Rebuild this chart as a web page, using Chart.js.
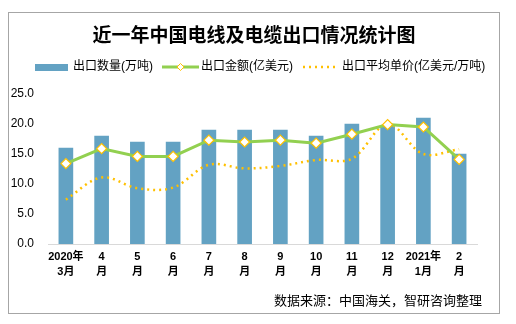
<!DOCTYPE html>
<html>
<head>
<meta charset="utf-8">
<script src="https://cdn.jsdelivr.net/npm/chart.js@4"></script>
<style>
  html, body { margin: 0; padding: 0; background: #fff; }
  #wrap { width: 516px; height: 324px; }
</style>
</head>
<body>
<div id="wrap"><canvas id="myChart" width="516" height="324"></canvas></div>
<script>
// 数据
var months = [['2020年', '3月'], ['4', '月'], ['5', '月'], ['6', '月'], ['7', '月'], ['8', '月'],
              ['9', '月'], ['10', '月'], ['11', '月'], ['12', '月'], ['2021年', '1月'], ['2', '月']];
var exportVolume = [16, 18, 17, 17, 19, 19, 19, 18, 20, 19.6, 21, 15];          // 出口数量(万吨)
var exportValue = [13.4, 15.9, 14.6, 14.6, 17.3, 17.0, 17.3, 16.8, 18.3, 19.9, 19.5, 14.1]; // 出口金额(亿美元)
var unitPrice = [7.4, 11.1, 9.3, 9.4, 13.2, 12.6, 13.0, 14.0, 14.2, 20.0, 15.0, 15.8];   // 出口平均单价
var yTicks = [0, 5, 10, 15, 20, 25];

var BLUE = '#63a2c3';
var GREEN = '#92d050';
var ORANGE = '#ffc000';
var FONT = "Arial, 'Liberation Sans', 'Noto Sans CJK SC', sans-serif";

// 标题、图例、来源和外框
var decor = {
    id: 'decor',
    beforeDraw: function (chart) {
        var c = chart.ctx;
        c.save();
        c.fillStyle = '#fff';
        c.fillRect(0, 0, chart.width, chart.height);
        c.strokeStyle = '#a6a6a6';
        c.lineWidth = 1;
        c.strokeRect(8.5, 12.5, 491, 301);
        c.restore();
    },
    afterDraw: function (chart) {
        var c = chart.ctx;
        c.save();
        c.fillStyle = '#000';
        c.textBaseline = 'middle';
        c.textAlign = 'center';
        c.font = "bold 19px 'Noto Sans CJK SC', sans-serif";
        c.fillText('近一年中国电线及电缆出口情况统计图', 254, 35);

        // 图例
        var ly = 67;
        c.font = "12px " + FONT;
        c.textAlign = 'left';
        c.fillStyle = BLUE;
        c.fillRect(35, ly - 3, 33, 7);
        c.fillStyle = '#000';
        c.fillText('出口数量(万吨)', 73, ly);

        c.strokeStyle = GREEN;
        c.lineWidth = 3;
        c.beginPath(); c.moveTo(162, ly); c.lineTo(199, ly); c.stroke();
        c.fillStyle = '#fff';
        c.strokeStyle = ORANGE;
        c.lineWidth = 1;
        c.beginPath();
        c.moveTo(180.5, ly - 3.5); c.lineTo(184, ly); c.lineTo(180.5, ly + 3.5); c.lineTo(177, ly);
        c.closePath(); c.fill(); c.stroke();
        c.fillStyle = '#000';
        c.fillText('出口金额(亿美元)', 201, ly);

        c.strokeStyle = ORANGE;
        c.lineWidth = 2.5;
        c.setLineDash([2, 4]);
        c.beginPath(); c.moveTo(303, ly); c.lineTo(336, ly); c.stroke();
        c.setLineDash([]);
        c.fillStyle = '#000';
        c.fillText('出口平均单价(亿美元/万吨)', 342, ly);

        c.font = "13px " + FONT;
        c.textAlign = 'right';
        c.fillText('数据来源：中国海关，智研咨询整理', 482, 301);
        c.restore();
    }
};

var ctx = document.getElementById('myChart').getContext('2d');
var myChart = new Chart(ctx, {
    data: {
        labels: months,
        datasets: [{
            type: 'line',
            label: '出口金额(亿美元)',
            data: exportValue,
            borderColor: GREEN,
            borderWidth: 3,
            pointStyle: 'rectRot',
            pointRadius: 5,
            pointBackgroundColor: '#fff',
            pointBorderColor: ORANGE,
            pointBorderWidth: 1.2,
            tension: 0,
            order: 0
        }, {
            type: 'line',
            label: '出口平均单价(亿美元/万吨)',
            data: unitPrice,
            borderColor: ORANGE,
            borderWidth: 2.5,
            borderDash: [2, 4],
            pointRadius: 0,
            tension: 0.35,
            order: 1
        }, {
            type: 'bar',
            label: '出口数量(万吨)',
            data: exportVolume,
            backgroundColor: BLUE,
            barThickness: 14,
            order: 2
        }]
    },
    options: {
        responsive: false,
        animation: false,
        layout: { padding: { left: 8, right: 39, top: 94, bottom: 0 } },
        plugins: {
            legend: { display: false },
            title: { display: false },
            tooltip: { enabled: false }
        },
        scales: {
            x: {
                grid: { display: false, drawTicks: false },
                border: { display: true, color: '#d9d9d9', width: 1 },
                ticks: {
                    color: '#000',
                    padding: 6,
                    maxRotation: 0,
                    autoSkip: false,
                    font: { family: FONT, size: 11, weight: 'bold', lineHeight: 1.35 }
                },
                afterFit: function (scale) { scale.height = 80; }
            },
            y: {
                min: 0,
                max: 25,
                grid: { display: false, drawTicks: false },
                border: { display: false },
                afterBuildTicks: function (scale) {
                    scale.ticks = yTicks.map(function (v) { return { value: v }; });
                },
                ticks: {
                    color: '#000',
                    padding: 14,
                    font: { family: FONT, size: 12 },
                    callback: function (v) { return Number(v).toFixed(1); }
                },
                afterFit: function (scale) { scale.width = 40; }
            }
        }
    },
    plugins: [decor]
});
</script>
</body>
</html>
